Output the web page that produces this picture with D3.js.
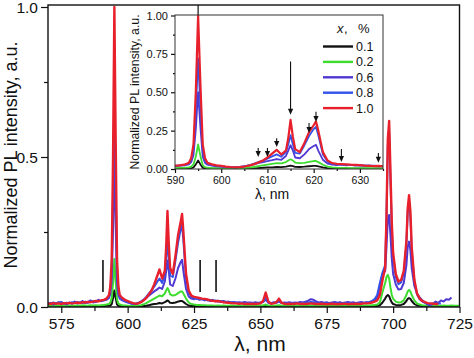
<!DOCTYPE html>
<html><head><meta charset="utf-8">
<script src="https://cdn.jsdelivr.net/npm/d3@7"></script>
<style>
body{margin:0;background:#fff}
svg{display:block;font-family:"Liberation Sans",Arial,sans-serif}
</style>
</head><body>
<svg id="c" width="474" height="358"></svg>
<script>
// ---------------- DATA ----------------
const wavelength = [
  570,571,572,573,574,575,576,577,578,579,580,581,582,583,584,585,586,587,588,589,590,591,592,593,
  593.5,594,594.5,595,595.5,596,596.5,597,
  598,599,600,601,602,603,604,605,606,
  607,608,609,610,611,612,613,614,614.5,615,615.5,616,617,618,619,620,620.5,621,622,623,624,
  625,626,627,628,629,630,631,632,633,634,
  635,636,637,638,639,640,641,642,643,644,
  645,646,647,648,649,650,651,652,653,654,
  655,656,657,658,659,660,661,662,663,664,
  665,666,667,668,669,670,671,672,673,674,
  675,676,677,678,679,680,681,682,683,684,
  685,686,687,688,689,690,691,692,693,
  694,695,696,697,697.5,698,698.5,699,699.5,700,701,702,703,704,705,705.5,706,706.5,707,708,709,710,711,712,
  713,714,715,716,717,718,719,720,721,722,723,724,725
];

const pl_x01 = [
  .002,.003,.002,.002,.003,.002,.002,.003,.002,.002,.003,.002,.002,.003,.002,.002,.003,.002,.003,.002,.003,.003,.004,.004,
  .005,.010,.030,.055,.030,.008,.004,.003,
  .003,.002,.002,.002,.002,.002,.002,.003,.003,
  .004,.006,.008,.010,.011,.013,.012,.016,.019,.022,.019,.014,.013,.015,.018,.020,.020,.017,.010,.005,.003,
  .003,.003,.002,.003,.002,.002,.003,.002,.002,.003,
  .002,.002,.003,.002,.002,.002,.003,.002,.002,.002,
  .003,.002,.002,.002,.003,.002,.002,.004,.002,.002,
  .003,.002,.002,.002,.003,.002,.002,.002,.003,.002,
  .002,.003,.002,.002,.002,.003,.002,.002,.002,.003,
  .002,.002,.003,.002,.002,.002,.003,.002,.002,.002,
  .003,.002,.002,.003,.002,.002,.003,.003,.003,
  .003,.006,.015,.028,.036,.040,.036,.024,.015,.010,.007,.006,.007,.010,.020,.027,.030,.027,.020,.010,.005,.004,.003,.003,
  .003,.003,.003,.003,.003,.003,.003,.003,.003,.003,.003,.003,.003
];

const pl_x02 = [
  .004,.005,.003,.004,.005,.004,.003,.005,.004,.005,.004,.005,.004,.006,.005,.004,.006,.005,.006,.005,.006,.007,.008,.010,
  .015,.030,.080,.160,.085,.025,.012,.008,
  .006,.005,.004,.003,.003,.003,.004,.006,.009,
  .013,.018,.023,.028,.033,.038,.036,.045,.055,.063,.055,.042,.038,.040,.046,.052,.052,.045,.028,.015,.010,
  .008,.007,.007,.006,.006,.005,.005,.005,.004,.005,
  .004,.005,.004,.004,.005,.004,.004,.005,.004,.004,
  .005,.004,.004,.005,.004,.005,.006,.008,.005,.004,
  .004,.005,.006,.004,.004,.005,.004,.004,.005,.004,
  .004,.005,.004,.004,.005,.004,.004,.005,.004,.004,
  .005,.004,.004,.005,.004,.004,.005,.004,.004,.005,
  .004,.004,.005,.004,.005,.005,.005,.006,.007,
  .008,.015,.050,.080,.100,.107,.095,.065,.040,.028,.018,.015,.016,.022,.040,.052,.057,.052,.040,.022,.012,.008,.006,.005,
  .005,.004,.004,.005,.004,.004,.005,.004,.004,.005,.004,.004,.004
];

const pl_x06 = [
  .010,.014,.008,.012,.016,.010,.013,.009,.015,.011,.018,.012,.014,.020,.013,.016,.022,.015,.018,.024,.019,.022,.024,.030,
  .045,.090,.260,.500,.270,.080,.040,.028,
  .022,.018,.015,.012,.010,.011,.014,.018,.024,
  .030,.038,.045,.052,.058,.065,.060,.085,.120,.155,.120,.075,.070,.095,.130,.150,.157,.120,.060,.035,.028,
  .026,.030,.024,.027,.022,.025,.020,.024,.019,.021,
  .017,.020,.016,.018,.015,.017,.014,.016,.013,.017,
  .014,.015,.013,.016,.014,.015,.017,.024,.015,.013,
  .016,.014,.018,.013,.015,.014,.016,.013,.015,.014,
  .017,.015,.018,.021,.026,.024,.019,.015,.017,.014,
  .016,.013,.015,.017,.014,.016,.013,.015,.017,.014,
  .016,.013,.015,.017,.014,.016,.015,.018,.022,
  .030,.070,.110,.120,.200,.290,.307,.240,.160,.110,.075,.058,.060,.080,.140,.200,.218,.190,.130,.070,.045,.032,.022,.015,
  .008,.006,.010,.018,.014,.022,.018,.026,.024,.032,null,null,null
];

const pl_x08 = [
  .013,.011,.015,.012,.014,.017,.011,.014,.012,.016,.013,.017,.015,.013,.018,.014,.017,.020,.016,.021,.020,.023,.026,.035,
  .060,.130,.380,.720,.400,.120,.055,.035,
  .026,.021,.017,.014,.012,.010,.012,.017,.024,
  .034,.045,.055,.068,.082,.095,.080,.110,.160,.220,.160,.105,.100,.155,.215,.260,.275,.220,.095,.048,.034,
  .030,.027,.029,.025,.026,.022,.024,.020,.022,.018,
  .020,.016,.018,.015,.016,.014,.015,.013,.015,.012,
  .014,.013,.014,.012,.013,.014,.018,.030,.014,.012,
  .013,.015,.022,.013,.012,.013,.012,.014,.012,.013,
  .012,.014,.013,.015,.017,.016,.014,.012,.013,.012,
  .013,.012,.011,.013,.012,.011,.012,.013,.011,.012,
  .013,.012,.013,.014,.013,.015,.016,.020,.026,
  .040,.080,.115,.140,.300,.540,.585,.420,.260,.165,.100,.076,.082,.112,.210,.320,.350,.300,.185,.085,.042,.026,.018,.014,
  .012,.011,.012,.011,.012,.012,null,null,null,null,null,null,null
];

const pl_x10 = [
  .012,.010,.013,.011,.012,.010,.013,.012,.014,.012,.013,.015,.013,.016,.015,.017,.016,.018,.020,.019,.022,.024,.028,.040,
  .070,.160,.500,1.00,.550,.160,.070,.040,
  .030,.024,.020,.016,.013,.011,.012,.016,.022,
  .030,.042,.055,.075,.100,.125,.095,.120,.200,.320,.210,.130,.110,.170,.240,.285,.310,.250,.110,.055,.038,
  .034,.032,.030,.028,.027,.025,.022,.021,.019,.020,
  .018,.016,.015,.014,.013,.012,.012,.011,.012,.010,
  .011,.010,.011,.010,.011,.012,.020,.048,.018,.011,
  .012,.016,.028,.014,.011,.010,.011,.010,.011,.012,
  .010,.011,.010,.011,.012,.011,.010,.010,.011,.010,
  .009,.010,.011,.010,.009,.010,.010,.011,.009,.010,
  .010,.011,.010,.011,.012,.012,.013,.015,.018,
  .022,.040,.090,.130,.300,.560,.620,.450,.280,.180,.110,.085,.090,.120,.220,.330,.373,.320,.200,.090,.045,.028,.020,.016,
  .013,.012,.011,.010,.010,null,null,null,null,null,null,null,null
];

const seriesLabels = ["0.1", "0.2", "0.6", "0.8", "1.0"];
const seriesValues = [pl_x01, pl_x02, pl_x06, pl_x08, pl_x10];
const seriesColors = ["#111111", "#3ddc2e", "#5038d2", "#3352ea", "#e8202c"];

const mainXTicks = [575, 600, 625, 650, 675, 700, 725];
const mainXMinor = [587.5, 612.5, 637.5, 662.5, 687.5, 712.5];
const mainYTicks = [0, 0.5, 1.0];
const mainYMinor = [0.25, 0.75];
const insetXTicks = [590, 600, 610, 620, 630];
const insetXMinor = [595, 605, 615, 625, 635];
const insetYTicks = [0, 0.25, 0.5, 0.75, 1.0];
const insetYMinor = [0.125, 0.375, 0.625, 0.875];

// vertical bars in the main plot
const markerWavelengths = [590.7, 627.3, 633.3];
const markerLow = 0.05, markerHigh = 0.157;
// arrows in the inset
const arrowWavelengths = [608, 610, 612, 615, 619, 620.5, 626, 634];
const arrowTops = [0.137, 0.137, 0.20, 0.70, 0.30, 0.373, 0.13, 0.105];
const arrowTips = [0.078, 0.078, 0.144, 0.353, 0.235, 0.307, 0.046, 0.040];

// ---------------- DRAW ----------------
const svg = d3.select("#c");
const W = {l: 48, r: 459.5, t: 5, b: 307};
const x = d3.scaleLinear().domain([570, 725]).range([W.l, W.r]);
const y = d3.scaleLinear().domain([0, 1]).range([W.b, 7]);

svg.append("defs").append("clipPath").attr("id", "mainClip")
  .append("rect").attr("x", W.l).attr("y", W.t).attr("width", W.r - W.l).attr("height", W.b - W.t);

function styleAxis(g, fs) {
  g.select(".domain").remove();
  g.selectAll(".tick line").attr("stroke", "#111").attr("stroke-width", 1.2);
  g.selectAll("text").attr("fill", "#111").style("font-size", fs + "px")
    .style("font-family", '"Liberation Sans",Arial,sans-serif');
}

// main axes
svg.append("g").attr("transform", `translate(0,${W.b})`)
  .call(d3.axisBottom(x).tickValues(mainXTicks).tickSize(6).tickPadding(5).tickFormat(d3.format("d")))
  .call(g => styleAxis(g, 15.5));
svg.append("g").attr("transform", `translate(0,${W.b})`)
  .call(d3.axisBottom(x).tickValues(mainXMinor).tickSize(4).tickFormat(""))
  .call(g => styleAxis(g, 15.5));
svg.append("g").attr("transform", `translate(${W.l},0)`)
  .call(d3.axisLeft(y).tickValues(mainYTicks).tickSize(7).tickPadding(3).tickFormat(d3.format(".1f")))
  .call(g => styleAxis(g, 15.5))
  .call(g => g.selectAll("text").attr("dy", "0.38em"));
svg.append("g").attr("transform", `translate(${W.l},0)`)
  .call(d3.axisLeft(y).tickValues(mainYMinor).tickSize(4).tickFormat(""))
  .call(g => styleAxis(g, 15.5));

// main lines
const mainLine = d3.line().defined(d => d[1] != null).x(d => x(d[0])).y(d => y(d[1]));
const mainG = svg.append("g").attr("clip-path", "url(#mainClip)");
seriesValues.forEach((vals, i) => {
  const pts = wavelength.map((w, j) => [w, vals[j]]);
  mainG.append("path").datum(pts).attr("d", mainLine)
    .attr("fill", "none").attr("stroke", seriesColors[i])
    .attr("stroke-width", i === 4 ? 2.4 : 2).attr("stroke-linejoin", "round");
});

// main markers
svg.append("g").selectAll("line").data(markerWavelengths).join("line")
  .attr("x1", d => x(d)).attr("x2", d => x(d))
  .attr("y1", y(markerLow)).attr("y2", y(markerHigh))
  .attr("stroke", "#111").attr("stroke-width", 1.6);

// main frame
svg.append("rect").attr("x", W.l).attr("y", W.t).attr("width", W.r - W.l).attr("height", W.b - W.t)
  .attr("fill", "none").attr("stroke", "#111").attr("stroke-width", 1.4);

// main labels
svg.append("text").attr("transform", "translate(17,155) rotate(-90)").attr("text-anchor", "middle")
  .style("font-size", "18px").attr("fill", "#111").text("Normalized PL intensity, a.u.");
svg.append("text").attr("x", 260).attr("y", 351).attr("text-anchor", "middle")
  .style("font-size", "21px").attr("fill", "#111").text("λ, nm");

// ---------------- INSET ----------------
const I = {l: 175, r: 383, t: 15, b: 169};
const xi = d3.scaleLinear().domain([590, 635]).range([I.l, I.r]);
const yi = d3.scaleLinear().domain([0, 1]).range([I.b, 15.5]);

svg.select("defs").append("clipPath").attr("id", "insetClip")
  .append("rect").attr("x", I.l).attr("y", I.t).attr("width", I.r - I.l).attr("height", I.b - I.t);

svg.append("rect").attr("x", I.l).attr("y", I.t).attr("width", I.r - I.l).attr("height", I.b - I.t)
  .attr("fill", "#fff");

// long arrow line at 595 (behind the spectra)
svg.append("line").attr("x1", xi(595)).attr("x2", xi(595))
  .attr("y1", W.t).attr("y2", yi(0.93)).attr("stroke", "#111").attr("stroke-width", 1.2);

const insetLine = d3.line().defined(d => d[1] != null).x(d => xi(d[0])).y(d => yi(d[1]));
const insetG = svg.append("g").attr("clip-path", "url(#insetClip)");
seriesValues.forEach((vals, i) => {
  const pts = wavelength.map((w, j) => [w, vals[j]]);
  insetG.append("path").datum(pts).attr("d", insetLine)
    .attr("fill", "none").attr("stroke", seriesColors[i])
    .attr("stroke-width", i === 4 ? 2.2 : 1.8).attr("stroke-linejoin", "round");
});

// arrows
const arrG = svg.append("g");
arrowWavelengths.forEach((w, i) => {
  const ax = xi(w), yt = yi(arrowTops[i]), yp = yi(arrowTips[i]);
  arrG.append("line").attr("x1", ax).attr("x2", ax).attr("y1", yt).attr("y2", yp - 4)
    .attr("stroke", "#111").attr("stroke-width", 1.1);
  arrG.append("path").attr("d", `M${ax - 2.6},${yp - 6}L${ax + 2.6},${yp - 6}L${ax},${yp}Z`).attr("fill", "#111");
});

// inset axes
svg.append("g").attr("transform", `translate(0,${I.b})`)
  .call(d3.axisBottom(xi).tickValues(insetXTicks).tickSize(4).tickPadding(4).tickFormat(d3.format("d")))
  .call(g => styleAxis(g, 10.5));
svg.append("g").attr("transform", `translate(0,${I.b})`)
  .call(d3.axisBottom(xi).tickValues(insetXMinor).tickSize(2).tickFormat(""))
  .call(g => styleAxis(g, 10.5));
svg.append("g").attr("transform", `translate(${I.l},0)`)
  .call(d3.axisLeft(yi).tickValues(insetYTicks).tickSize(4).tickPadding(3).tickFormat(d3.format(".2f")))
  .call(g => styleAxis(g, 11));
svg.append("g").attr("transform", `translate(${I.l},0)`)
  .call(d3.axisLeft(yi).tickValues(insetYMinor).tickSize(2).tickFormat(""))
  .call(g => styleAxis(g, 11));

svg.append("rect").attr("x", I.l).attr("y", I.t).attr("width", I.r - I.l).attr("height", I.b - I.t)
  .attr("fill", "none").attr("stroke", "#333").attr("stroke-width", 1);

svg.append("text").attr("transform", "translate(139,92) rotate(-90)").attr("text-anchor", "middle")
  .style("font-size", "12.3px").attr("fill", "#111").text("Normalized PL intensity, a.u.");
svg.append("text").attr("x", 272).attr("y", 199).attr("text-anchor", "middle")
  .style("font-size", "14px").attr("fill", "#111").text("λ, nm");

// legend
const lg = svg.append("g");
const lt = lg.append("text").attr("y", 33).style("font-size", "13px").attr("fill", "#111");
lt.append("tspan").attr("x", 337).style("font-style", "italic").text("x");
lt.append("tspan").attr("x", 344).text(",");
lt.append("tspan").attr("x", 358).text("%");
seriesLabels.forEach((lab, i) => {
  const cy = 46.5 + i * 15.4;
  lg.append("line").attr("x1", 323).attr("x2", 353).attr("y1", cy).attr("y2", cy)
    .attr("stroke", seriesColors[i]).attr("stroke-width", 2.4);
  lg.append("text").attr("x", 356).attr("y", cy).attr("dy", "0.36em")
    .style("font-size", "12.5px").attr("fill", "#111").text(lab);
});
</script>
</body></html>
